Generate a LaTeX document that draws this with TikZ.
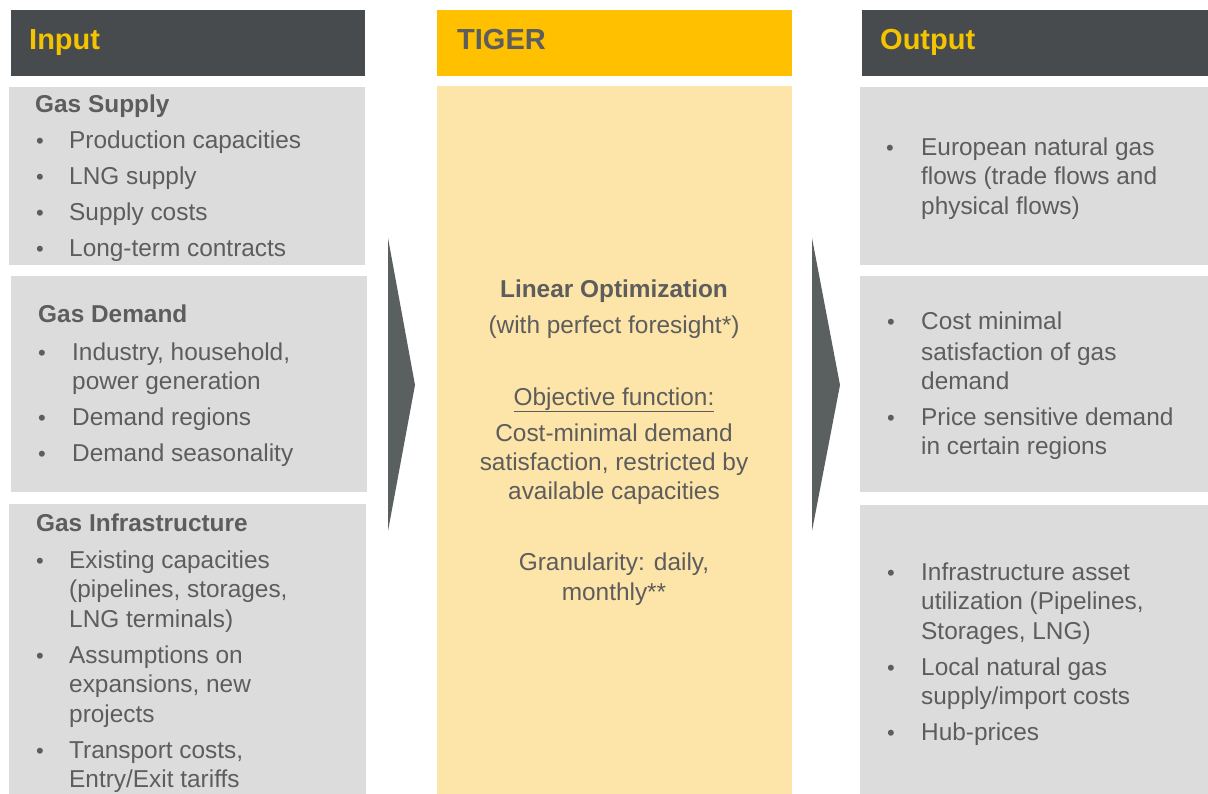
\documentclass[tikz,border=0pt]{standalone}
\usepackage{fontspec}
\setmainfont{Liberation Sans}
\definecolor{hdrdark}{HTML}{484B4D}
\definecolor{hdryel}{HTML}{FFC000}
\definecolor{titleyel}{HTML}{F5C400}
\definecolor{bodyyel}{HTML}{FDE4A8}
\definecolor{boxgray}{HTML}{DCDCDC}
\definecolor{txtgray}{HTML}{5D5D5D}
\definecolor{arrgray}{HTML}{5A5F60}
\begin{document}
\begin{tikzpicture}[x=1pt,y=-1pt,
  panel/.style={draw=none,inner sep=0pt,outer sep=0pt,anchor=north west},
  hdrtxt/.style={anchor=base west,inner sep=0pt,font=\fontsize{29}{34}\selectfont\bfseries},
  txt/.style={anchor=base west,inner sep=0pt,text=txtgray,font=\fontsize{24.4}{29}\selectfont},
  headtxt/.style={txt,font=\fontsize{24.4}{29}\selectfont\bfseries},
  midtxt/.style={txt,anchor=base},
  bul/.style={anchor=base,inner sep=0pt,text=txtgray,font=\fontsize{22}{26}\selectfont},
]
\useasboundingbox (0,0) rectangle (1208,794);
\fill[white] (0,0) rectangle (1208,794);

% headers
\node[panel,fill=hdrdark,minimum width=354pt,minimum height=66pt] (hin) at (11,10) {};
\node[panel,fill=hdryel,minimum width=355pt,minimum height=66pt] (hmid) at (437,10) {};
\node[panel,fill=hdrdark,minimum width=346pt,minimum height=66pt] (hout) at (862,10) {};
\node[hdrtxt,text=titleyel] (tin) at (29,50) {Input};
\node[hdrtxt,text=txtgray] (tmid) at (457,50) {TIGER};
\node[hdrtxt,text=titleyel] (tout) at (880,50) {Output};

% panels
\node[panel,fill=boxgray,minimum width=356pt,minimum height=178pt] (in1) at (9,87) {};
\node[panel,fill=boxgray,minimum width=356pt,minimum height=216pt] (in2) at (11,276) {};
\node[panel,fill=boxgray,minimum width=357pt,minimum height=290pt] (in3) at (9,504) {};
\node[panel,fill=bodyyel,minimum width=355pt,minimum height=708pt] (mid) at (437,86) {};
\node[panel,fill=boxgray,minimum width=348pt,minimum height=178pt] (out1) at (860,87) {};
\node[panel,fill=boxgray,minimum width=348pt,minimum height=216pt] (out2) at (860,276) {};
\node[panel,fill=boxgray,minimum width=348pt,minimum height=289pt] (out3) at (860,505) {};

% chevrons
\fill[arrgray] (388,238) -- (415,385) -- (388,531) -- cycle;
\fill[arrgray] (812,238) -- (840,385) -- (812,531) -- cycle;

% Gas Supply
\node[headtxt] (gs) at (35,113) {Gas Supply};
\foreach \y/\t [count=\i] in {149/{Production capacities},185/{LNG supply},221/{Supply costs},257/{Long-term contracts}}{
  \node[bul] (gsb\i) at (40,\y) {•};
  \node[txt] (gst\i) at (69,\y) {\t};
}

% Gas Demand
\node[headtxt] (gd) at (38,323) {Gas Demand};
\foreach \y in {360,425,461}{
  \node[bul] (gdb\y) at (42,\y) {•};
}
\foreach \y/\t [count=\i] in {360/{Industry, household,},389/{power generation},425/{Demand regions},461/{Demand seasonality}}{
  \node[txt] (gdt\i) at (72,\y) {\t};
}

% Gas Infrastructure
\node[headtxt] (gi) at (36,531) {Gas Infrastructure};
\foreach \y in {568,663,758}{
  \node[bul] (gib\y) at (40,\y) {•};
}
\foreach \y/\t [count=\i] in {568/{Existing capacities},597/{(pipelines, storages,},627/{LNG terminals)},663/{Assumptions on},692/{expansions, new},722/{projects},758/{Transport costs,},787/{Entry/Exit tariffs}}{
  \node[txt] (git\i) at (69,\y) {\t};
}

% TIGER body
\node[midtxt,font=\fontsize{24.4}{29}\selectfont\bfseries] (m1) at (614,298) {Linear Optimization};
\node[midtxt] (m2) at (614,334) {(with perfect foresight*)};
\node[midtxt] (m3) at (614,405) {\underline{Objective function:}};
\node[midtxt] (m4) at (614,441) {Cost-minimal demand};
\node[midtxt] (m5) at (614,470) {satisfaction, restricted by};
\node[midtxt] (m6) at (614,499) {available capacities};
\node[midtxt] (m7) at (614,570) {Granularity: daily,};
\node[midtxt] (m8) at (614,600) {monthly**};

% Output 1
\node[bul] (o1b) at (890,156) {•};
\foreach \y/\t [count=\i] in {156/{European natural gas},185/{flows (trade flows and},215/{physical flows)}}{
  \node[txt] (o1t\i) at (921,\y) {\t};
}

% Output 2
\foreach \y in {330,425}{
  \node[bul] (o2b\y) at (891,\y) {•};
}
\foreach \y/\t [count=\i] in {330/{Cost minimal},360/{satisfaction of gas},389/{demand},425/{Price sensitive demand},454/{in certain regions}}{
  \node[txt] (o2t\i) at (921,\y) {\t};
}

% Output 3
\foreach \y in {580,675,740}{
  \node[bul] (o3b\y) at (891,\y) {•};
}
\foreach \y/\t [count=\i] in {580/{Infrastructure asset},609/{utilization (Pipelines,},639/{Storages, LNG)},675/{Local natural gas},704/{supply/import costs},740/{Hub-prices}}{
  \node[txt] (o3t\i) at (921,\y) {\t};
}
\end{tikzpicture}
\end{document}
